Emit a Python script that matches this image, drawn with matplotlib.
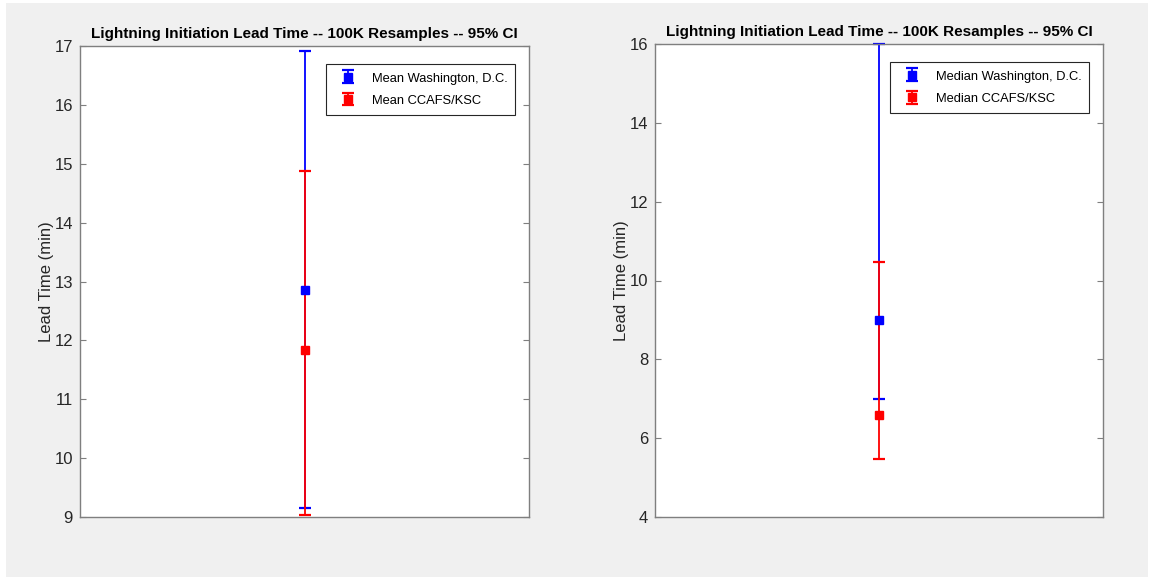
import matplotlib.pyplot as plt
from matplotlib.patches import Rectangle

# bootstrap results (minutes)
mean_labels = ["Mean Washington, D.C.", "Mean CCAFS/KSC"]
mean_values = [12.86, 11.84]
mean_lower = [9.16, 9.04]
mean_upper = [16.92, 14.88]

median_labels = ["Median Washington, D.C.", "Median CCAFS/KSC"]
median_values = [9.0, 6.6]
median_lower = [7.0, 5.46]
median_upper = [16.0, 10.46]

mean_yticks = [9, 10, 11, 12, 13, 14, 15, 16, 17]
median_yticks = [4, 6, 8, 10, 12, 14, 16]

colors = ["#0000ff", "#ff0000"]
TITLE = "Lightning Initiation Lead Time -- 100K Resamples -- 95% CI"

plt.rcParams['font.family'] = ["Liberation Sans", "DejaVu Sans"]


def draw_panel(ax, labels, values, lower, upper, yticks, leg_anchor):
    for lab, v, lo, hi, c in zip(labels, values, lower, upper, colors):
        ax.errorbar([1], [v], yerr=[[v - lo], [hi - v]], fmt='s', color=c,
                    ecolor=c, markersize=6, capsize=4, elinewidth=1.3,
                    capthick=1.6, label=lab, clip_on=False)
    ax.set_xlim(0, 2)
    ax.set_ylim(yticks[0], yticks[-1])
    ax.set_yticks(yticks)
    ax.set_xticks([])
    ax.tick_params(axis='y', direction='in', right=True, length=4, pad=5,
                   labelsize=12, colors='#7f7f7f', labelcolor='#262626')
    for s in ax.spines.values():
        s.set_color('#7f7f7f')
        s.set_linewidth(1.0)
    ax.set_title(TITLE, fontsize=11, fontweight='bold', pad=6)
    ax.set_ylabel("Lead Time (min)", fontsize=12, color='#262626', labelpad=0)
    leg = ax.legend(loc='upper right', bbox_to_anchor=leg_anchor,
                    borderaxespad=0, fontsize=9.3, fancybox=False,
                    framealpha=1, edgecolor='#262626', borderpad=0.6,
                    handlelength=2.2, handletextpad=0.7, labelspacing=0.7,
                    handleheight=1.0)
    leg.get_frame().set_linewidth(0.8)


fig = plt.figure(figsize=(11.51, 5.77), dpi=100)
fig.patch.set_facecolor('white')
fig.patches.append(Rectangle((6 / 1151, 0), 1142 / 1151, 574 / 577,
                             transform=fig.transFigure, facecolor='#f0f0f0',
                             edgecolor='none', zorder=-10))

ax1 = fig.add_axes([80 / 1151, 60 / 577, 449 / 1151, 471 / 577])
ax2 = fig.add_axes([655 / 1151, 60 / 577, 448 / 1151, 473 / 577])

draw_panel(ax1, mean_labels, mean_values, mean_lower, mean_upper,
           mean_yticks, (0.969, 0.962))
draw_panel(ax2, median_labels, median_values, median_lower, median_upper,
           median_yticks, (0.969, 0.962))

fig.savefig("out.png", dpi=100)
